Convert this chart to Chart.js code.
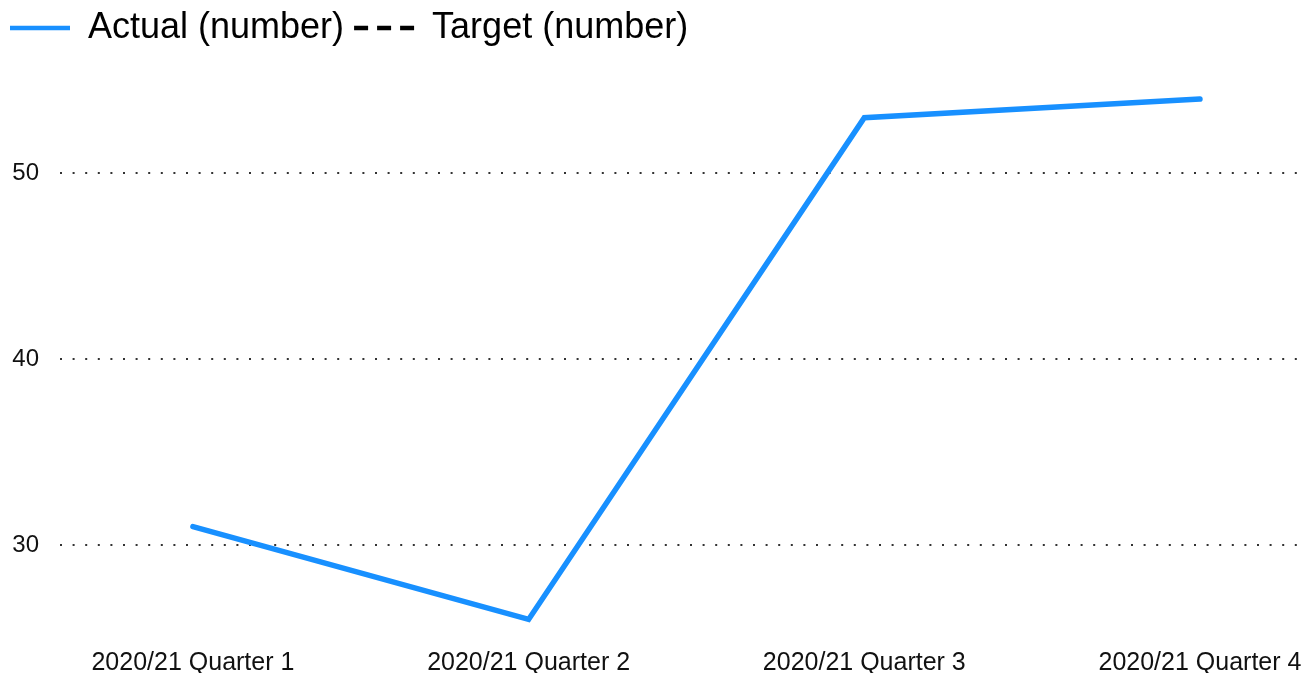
<!DOCTYPE html>
<html>
<head>
<meta charset="utf-8">
<script src="https://cdn.jsdelivr.net/npm/chart.js@4/dist/chart.umd.min.js"></script>
<style>
    html, body { margin: 0; padding: 0; background: #ffffff; }
    #caja { width: 1304px; height: 673px; position: relative; }
</style>
</head>
<body>
<div id="caja"><canvas id="grafico"></canvas></div>
<script>
// Datos del grafico
const categorias = ['2020/21 Quarter 1', '2020/21 Quarter 2', '2020/21 Quarter 3', '2020/21 Quarter 4'];
const valoresActual = [31, 26, 53, 54];
const valoresTarget = [null, null, null, null];
const ticksY = [30, 40, 50];

// Puntos para el eje x lineal (indice de la categoria)
let puntosActual = [];
let puntosTarget = [];
for (let i = 0; i < categorias.length; i++) {
    puntosActual.push({ x: i, y: valoresActual[i] });
    puntosTarget.push({ x: i, y: valoresTarget[i] });
}

const fuente = "'Liberation Sans', Arial, sans-serif";

let ctx = document.getElementById('grafico').getContext('2d');
let miGrafico = new Chart(ctx, {
    type: 'line',
    data: {
        datasets: [{
            label: 'Actual (number)',
            data: puntosActual,
            borderColor: '#1890ff',
            backgroundColor: '#1890ff',
            borderWidth: 5.5,
            borderCapStyle: 'round',
            pointRadius: 0,
            pointHoverRadius: 0,
            tension: 0,
            pointStyle: 'line'
        }, {
            label: 'Target (number)',
            data: puntosTarget,
            borderColor: '#000000',
            backgroundColor: '#000000',
            borderWidth: 4,
            borderDash: [14, 9],
            pointRadius: 0,
            pointStyle: 'line'
        }]
    },
    options: {
        responsive: true,
        maintainAspectRatio: false,
        animation: false,
        layout: { padding: { left: 0, right: 4, top: 0, bottom: 0 } },
        plugins: {
            tooltip: { enabled: false },
            legend: {
                position: 'top',
                align: 'start',
                labels: {
                    usePointStyle: true,
                    pointStyleWidth: 60,
                    padding: 10,
                    color: '#000000',
                    font: { family: fuente, size: 36 },
                    // la leyenda con pointStyle no copia el guion de la serie
                    generateLabels: function(chart) {
                        let items = Chart.defaults.plugins.legend.labels.generateLabels(chart);
                        for (let i = 0; i < items.length; i++) {
                            let serie = chart.data.datasets[items[i].datasetIndex];
                            items[i].lineDash = serie.borderDash || [];
                            items[i].lineWidth = 4.5;
                            items[i].strokeStyle = serie.borderColor;
                        }
                        return items;
                    }
                }
            }
        },
        scales: {
            x: {
                type: 'linear',
                min: -0.396,
                max: 3.298,
                grid: { display: false, drawTicks: false },
                border: { display: false },
                ticks: {
                    stepSize: 1,
                    includeBounds: false,
                    padding: 12,
                    color: '#111111',
                    font: { family: fuente, size: 25, lineHeight: 0.8 },
                    callback: function(valor) {
                        return categorias[valor];
                    }
                },
                afterBuildTicks: function(escala) {
                    escala.ticks = categorias.map(function(c, i) { return { value: i }; });
                },
                afterFit: function(escala) {
                    escala.height = 32;
                    escala.paddingLeft = 0;
                    escala.paddingRight = 0;
                }
            },
            y: {
                min: 24.84,
                max: 56.32,
                grid: { color: '#333333', lineWidth: 2, drawTicks: false },
                border: { display: false, dash: [2, 10.6] },
                ticks: {
                    padding: 21,
                    color: '#111111',
                    font: { family: fuente, size: 24 }
                },
                afterBuildTicks: function(escala) {
                    escala.ticks = ticksY.map(function(v) { return { value: v }; });
                },
                afterFit: function(escala) {
                    escala.width = 60;
                    escala.paddingTop = 0;
                    escala.paddingBottom = 0;
                }
            }
        }
    }
});
</script>
</body>
</html>
